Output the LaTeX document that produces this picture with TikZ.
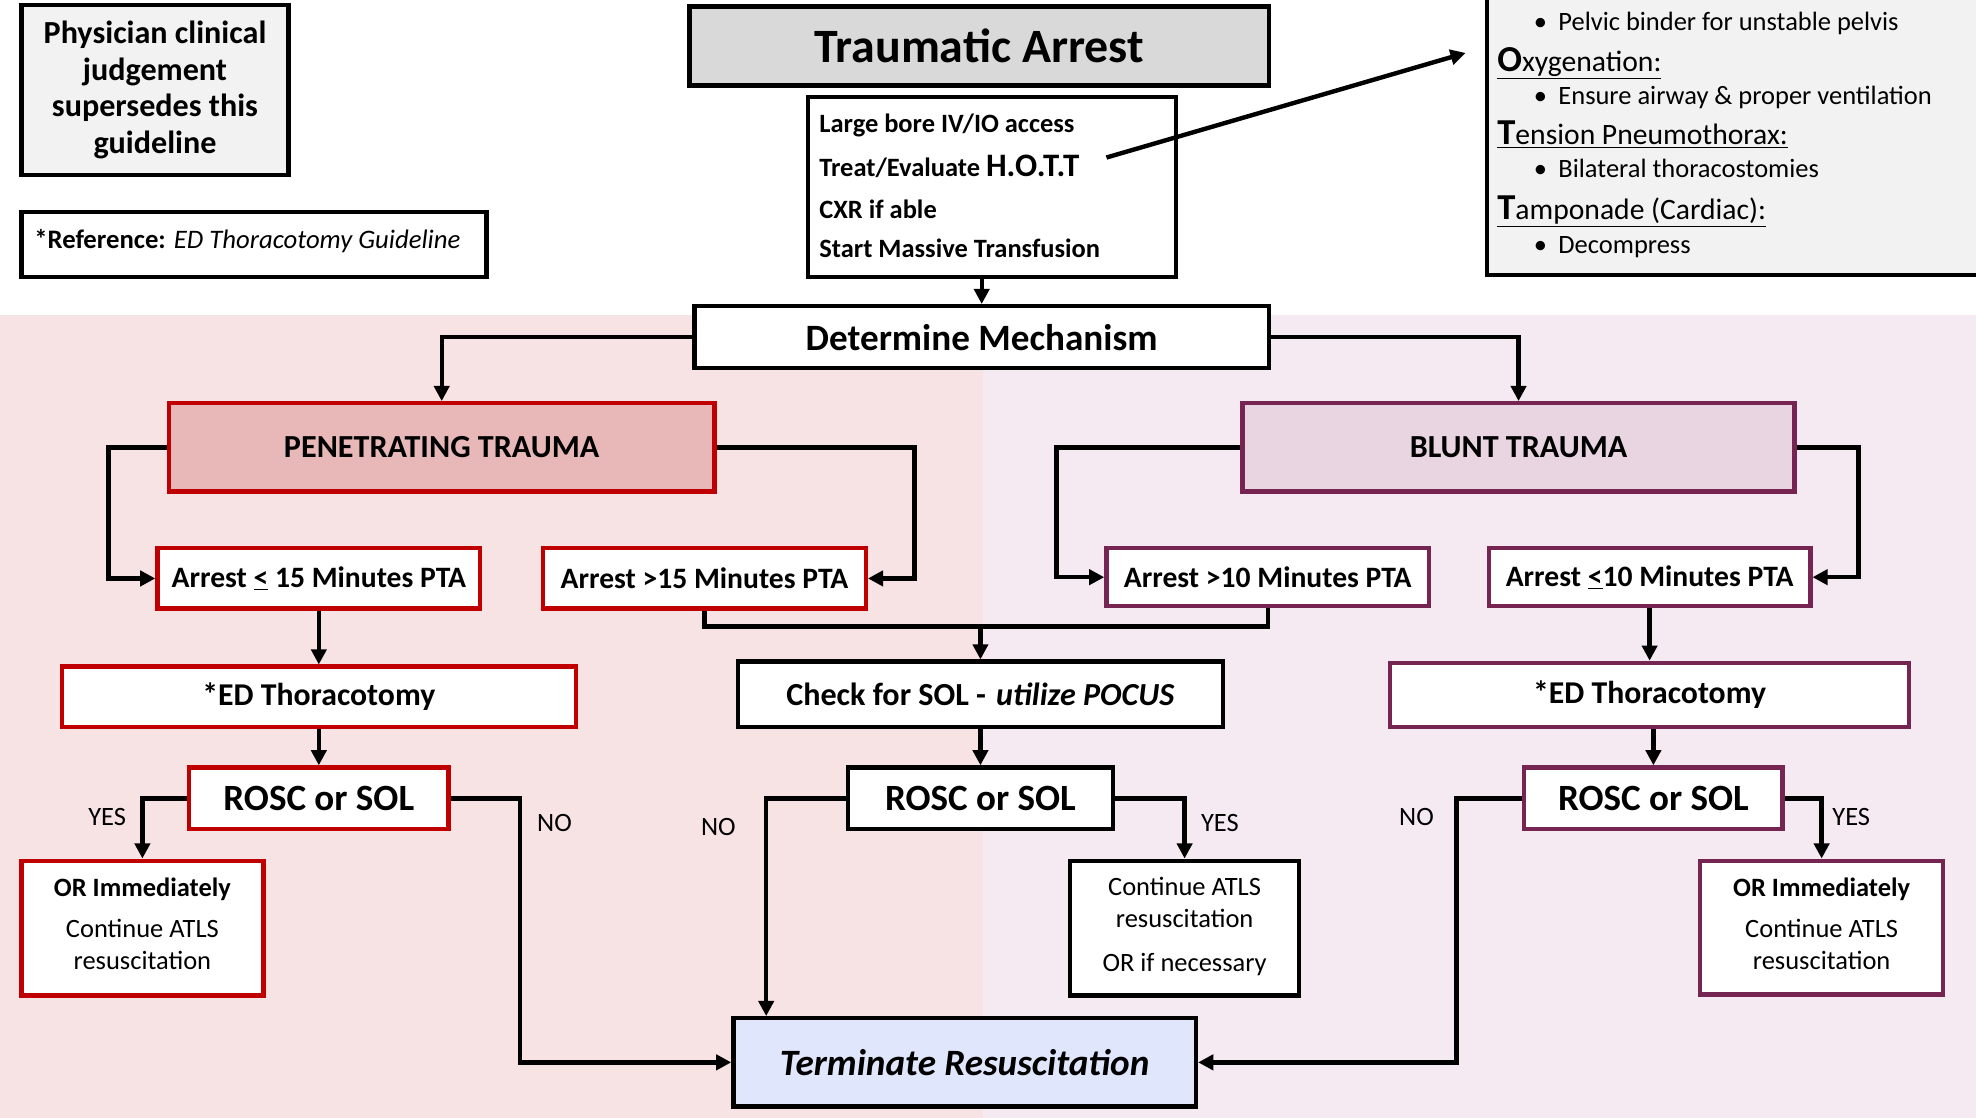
\documentclass[tikz,border=0pt]{standalone}
\usepackage{fontspec}
\setmainfont{Carlito}
\usetikzlibrary{arrows.meta}
\definecolor{pinkbg}{RGB}{247,226,228}
\definecolor{purbg}{RGB}{245,234,242}
\definecolor{redc}{RGB}{192,0,0}
\definecolor{purc}{RGB}{118,36,82}
\definecolor{penfill}{RGB}{232,184,184}
\definecolor{blufill}{RGB}{233,213,225}
\definecolor{lgray}{RGB}{242,242,242}
\definecolor{mgray}{RGB}{217,217,217}
\definecolor{termfill}{RGB}{224,230,251}
\newcommand{\fs}[1]{\fontsize{#1}{#1}\selectfont}
\begin{document}
\begin{tikzpicture}[x=1pt,y=-1pt,
  box/.style={draw, line width=3.5pt, rectangle, inner sep=0pt, align=center},
  redbox/.style={box, draw=redc, fill=white},
  purbox/.style={box, draw=purc, fill=white},
  blkbox/.style={box, draw=black, fill=white},
  conn/.style={line width=3.5pt, -{Triangle[length=12pt,width=12pt]}},
  plainline/.style={line width=3.5pt},
  lbl/.style={font=\fs{21}, inner sep=0pt},
  txt/.style={inner sep=0pt, anchor=base west},
  hd/.style={txt, font=\fs{23.5}},
  bl/.style={txt, font=\fs{21}},
  outtxt/.style={inner sep=0pt, align=center, font=\fontsize{21}{25.5}\selectfont}
]
\useasboundingbox (0,0) rectangle (1568,887);
\fill[white] (0,0) rectangle (1568,887);
\fill[pinkbg] (0,250) rectangle (780,887);
\fill[purbg] (780,250) rectangle (1568,887);

% top-left notes
\node[box, fill=lgray, minimum width=212pt, minimum height=135pt, font=\bfseries\fontsize{25.5}{29}\selectfont] (phys) at (123,71.5)
  {Physician clinical\\judgement\\supersedes this\\guideline};
\node[box, fill=white, minimum width=369pt, minimum height=52pt] (ref) at (201.5,194) {};
\node[txt, font=\fs{21.2}] (reftxt) at (27,197) {\textbf{*Reference:} \textit{ED Thoracotomy Guideline}};

% title
\node[box, fill=mgray, minimum width=460pt, minimum height=63pt, font=\bfseries\fs{38}] (ta) at (777,36.5) {Traumatic Arrest};
\node[blkbox, minimum width=292pt, minimum height=143pt] (b2) at (787,148.5) {};
\node[txt, font=\bfseries\fs{21}] (l1) at (650,105) {Large bore IV/IO access};
\node[txt, font=\bfseries\fs{21}] (l2) at (650,140) {Treat/Evaluate {\fs{26}H.O.T.T}};
\node[txt, font=\bfseries\fs{21}] (l3) at (650,173) {CXR if able};
\node[txt, font=\bfseries\fs{21}] (l4) at (650,204) {Start Massive Transfusion};

% HOTT box
\node[box, fill=lgray, minimum width=440pt, minimum height=260pt] (hott) at (1400,88) {};
\node[bl] (h1) at (1217,24) {\textbullet\hspace{9pt}Pelvic binder for unstable pelvis};
\node[hd] (h2) at (1188,57) {\underline{{\bfseries\fs{29}O}xygenation:}};
\node[bl] (h3) at (1217,83) {\textbullet\hspace{9pt}Ensure airway \& proper ventilation};
\node[hd] (h4) at (1188,115) {\underline{{\bfseries\fs{29}T}ension Pneumothorax:}};
\node[bl] (h5) at (1217,141) {\textbullet\hspace{9pt}Bilateral thoracostomies};
\node[hd] (h6) at (1188,174) {\underline{{\bfseries\fs{29}T}amponade (Cardiac):}};
\node[bl] (h7) at (1217,201) {\textbullet\hspace{9pt}Decompress};
\coordinate (hs) at (878,125);
\coordinate (he) at (1163,42);
\draw[conn] (hs) -- (he);

% mechanism
\node[blkbox, minimum width=456pt, minimum height=49pt, font=\bfseries\fs{29.5}] (dm) at (779,267.5) {Determine Mechanism};
\draw[conn] (b2.south -| dm.north) -- (dm.north);

\node[box, draw=redc, fill=penfill, minimum width=433pt, minimum height=70pt, font=\bfseries\fs{25.5}] (pen) at (350.5,355) {PENETRATING TRAUMA};
\node[box, draw=purc, fill=blufill, minimum width=438pt, minimum height=70pt, font=\bfseries\fs{25.5}] (blu) at (1205,355) {BLUNT TRAUMA};
\draw[conn] (dm.west) -| (pen.north);
\draw[conn] (dm.east) -| (blu.north);

% arrest boxes
\node[redbox, minimum width=256pt, minimum height=48pt, font=\bfseries\fs{23.5}] (a15l) at (253,459) {Arrest \underline{<} 15 Minutes PTA};
\node[redbox, minimum width=256pt, minimum height=48pt, font=\bfseries\fs{23.5}] (a15g) at (559,459) {Arrest >15 Minutes PTA};
\node[purbox, minimum width=256pt, minimum height=46pt, font=\bfseries\fs{23.5}] (a10g) at (1006,458) {Arrest >10 Minutes PTA};
\node[purbox, minimum width=255pt, minimum height=46pt, font=\bfseries\fs{23.5}] (a10l) at (1309,458) {Arrest \underline{<}10 Minutes PTA};

\draw[conn] (pen.west) -- ++(-46,0) |- (a15l.west);
\draw[conn] (pen.east) -- ++(157,0) |- (a15g.east);
\draw[conn] (blu.west) -- ++(-146,0) |- (a10g.west);
\draw[conn] (blu.east) -- ++(49,0) |- (a10l.east);

% second row
\node[redbox, minimum width=408pt, minimum height=48pt, font=\bfseries\fs{25.2}] (edl) at (253,553) {*ED Thoracotomy};
\node[blkbox, minimum width=385pt, minimum height=52pt, font=\bfseries\fs{25.5}] (chk) at (778,551) {Check for SOL -\hspace{8pt}\textit{utilize POCUS}};
\node[purbox, minimum width=412pt, minimum height=51pt, font=\bfseries\fs{25.2}] (edr) at (1309,551.5) {*ED Thoracotomy};

\draw[conn] (a15l.south) -- (edl.north);
\draw[conn] (a10l.south) -- (edr.north);
\coordinate (j) at (778,497);
\draw[plainline] (a15g.south) |- (j) -| (a10g.south);
\draw[conn] (j) -- (chk.north);

% ROSC
\node[redbox, minimum width=206pt, minimum height=49pt, font=\bfseries\fs{29.4}] (rl) at (253,633.5) {ROSC or SOL};
\node[blkbox, minimum width=210pt, minimum height=49pt, font=\bfseries\fs{29.4}] (rm) at (778,633.5) {ROSC or SOL};
\node[purbox, minimum width=205pt, minimum height=49pt, font=\bfseries\fs{29.4}] (rr) at (1312,633.5) {ROSC or SOL};
\draw[conn] (edl.south) -- (rl.north);
\draw[conn] (chk.south) -- (rm.north);
\draw[conn] (edr.south -| rr.north) -- (rr.north);

% outcomes
\node[redbox, minimum width=192pt, minimum height=107pt] (orl) at (113,736.5) {};
\node[outtxt] (orltxt) at (113,733) {\textbf{OR Immediately}\\[7pt]Continue ATLS\\resuscitation};
\node[blkbox, minimum width=182pt, minimum height=107pt] (cm) at (940,736.5) {};
\node[outtxt] (cmtxt) at (940,735) {Continue ATLS\\resuscitation\\[9pt]OR if necessary};
\node[purbox, minimum width=193pt, minimum height=106pt] (orr) at (1445.5,736) {};
\node[outtxt] (orrtxt) at (1445.5,733) {\textbf{OR Immediately}\\[7pt]Continue ATLS\\resuscitation};
\node[box, fill=termfill, minimum width=367pt, minimum height=70pt, font=\bfseries\itshape\fs{29.5}] (term) at (765.5,843) {Terminate Resuscitation};

\draw[conn] (rl.west) -| (orl.north);
\draw[conn] (rl.east) -- ++(55,0) |- (term.west);
\draw[conn] (rm.west) -| ([xshift=-157.5pt]term.north);
\draw[conn] (rm.east) -| (cm.north);
\draw[conn] (rr.west) -- ++(-52,0) |- (term.east);
\draw[conn] (rr.east) -| (orr.north);

\node[lbl] (y1) at (85,648) {YES};
\node[lbl] (n1) at (440,653) {NO};
\node[lbl] (n2) at (570,656) {NO};
\node[lbl] (y2) at (968,653) {YES};
\node[lbl] (n3) at (1124,648) {NO};
\node[lbl] (y3) at (1469,648) {YES};
\end{tikzpicture}
\end{document}
